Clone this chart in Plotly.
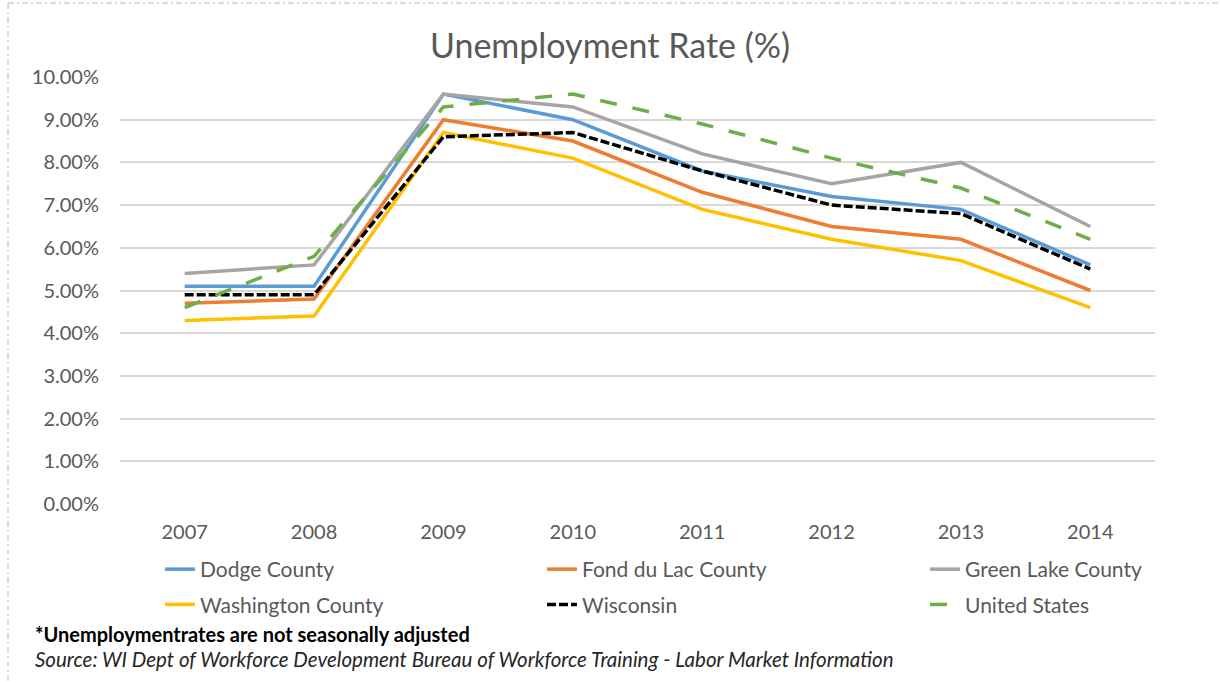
import plotly.graph_objects as go

years = ["2007", "2008", "2009", "2010", "2011", "2012", "2013", "2014"]
dodge = [5.1, 5.1, 9.6, 9.0, 7.8, 7.2, 6.9, 5.6]
fond_du_lac = [4.7, 4.8, 9.0, 8.5, 7.3, 6.5, 6.2, 5.0]
green_lake = [5.4, 5.6, 9.6, 9.3, 8.2, 7.5, 8.0, 6.5]
washington = [4.3, 4.4, 8.7, 8.1, 6.9, 6.2, 5.7, 4.6]
wisconsin = [4.9, 4.9, 8.6, 8.7, 7.8, 7.0, 6.8, 5.5]
united_states = [4.6, 5.8, 9.3, 9.6, 8.9, 8.1, 7.4, 6.2]

series = [
    ("Dodge County", dodge, "#5B9BD5", "solid", "legend"),
    ("Fond du Lac County", fond_du_lac, "#ED7D31", "solid", "legend2"),
    ("Green Lake County", green_lake, "#A5A5A5", "solid", "legend3"),
    ("Washington County", washington, "#FFC000", "solid", "legend"),
    ("Wisconsin", wisconsin, "#000000", "9px,3px", "legend2"),
    ("United States", united_states, "#70AD47", "17px,16px", "legend3"),
]

FONT = "Lato, 'Open Sans', sans-serif"
GREY = "#595959"

fig = go.Figure()
for name, vals, color, dash, leg in series:
    fig.add_trace(go.Scatter(
        x=years, y=vals, name=name, mode="lines", legend=leg,
        legendgroup=name,
        line=dict(color=color, width=3.5, dash=dash),
    ))

W, H = 1220, 683
ml, mr, mt, mb = 120, 65, 77, 179
pw, ph = W - ml - mr, H - mt - mb

def px_x(p):
    return (p - ml) / pw

def px_y(p):
    return (H - mb - p) / ph

def leg(xpx):
    return dict(orientation="v", x=px_x(xpx), xanchor="left",
                y=px_y(549), yanchor="top", tracegroupgap=5,
                font=dict(size=21, color=GREY, family=FONT),
                traceorder="grouped", bgcolor="rgba(0,0,0,0)")

fig.update_layout(
    width=W, height=H,
    margin=dict(l=ml, r=mr, t=mt, b=mb),
    paper_bgcolor="white", plot_bgcolor="white",
    font=dict(family=FONT, color=GREY),
    title=dict(text="Unemployment Rate (%)", x=0.5, xanchor="center",
               y=1 - 46 / H, yanchor="middle",
               font=dict(size=34, color=GREY, family=FONT)),
    xaxis=dict(type="category", range=[-0.5, 7.5], showgrid=False,
               showline=False, ticks="", tickfont=dict(size=20, color=GREY),
               ticklabelstandoff=14, zeroline=False),
    yaxis=dict(range=[0, 10], dtick=1, tickformat=".2f", ticksuffix="%",
               showgrid=True, gridcolor="#D9D9D9", gridwidth=1.5,
               zeroline=False, showline=False, ticks="",
               ticklabelstandoff=20,
               tickfont=dict(size=20, color=GREY)),
    showlegend=True,
    legend=leg(160),
    legend2=leg(542),
    legend3=leg(925),
    annotations=[
        dict(text="<b>*Unemploymentrates are not seasonally adjusted</b>",
             xref="paper", yref="paper", x=px_x(33), y=px_y(634),
             xanchor="left", yanchor="middle", showarrow=False,
             font=dict(size=20, color="#000000", family=FONT)),
        dict(text="<i>Source: WI Dept of Workforce Development Bureau of Workforce Training - Labor Market Information</i>",
             xref="paper", yref="paper", x=px_x(33), y=px_y(659),
             xanchor="left", yanchor="middle", showarrow=False,
             font=dict(size=20.5, color="#262626", family=FONT)),
    ],
    shapes=[
        dict(type="line", xref="paper", yref="paper",
             x0=px_x(8), x1=px_x(1225), y0=px_y(3), y1=px_y(3),
             line=dict(color="#D0D0D0", width=1.5, dash="6px,3px,2px,3px")),
        dict(type="line", xref="paper", yref="paper",
             x0=px_x(8), x1=px_x(8), y0=px_y(3), y1=px_y(690),
             line=dict(color="#D0D0D0", width=1.5, dash="6px,3px,2px,3px")),
    ],
)

fig.write_html("out.html")
